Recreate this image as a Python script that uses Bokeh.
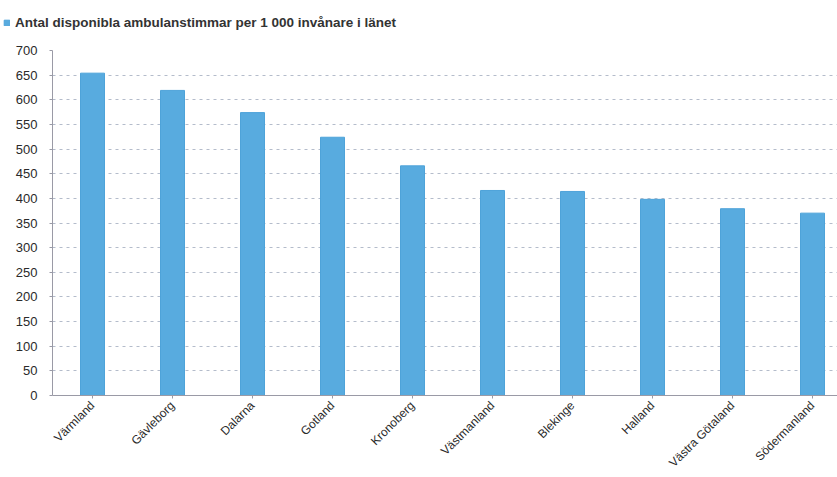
from bokeh.plotting import figure
from bokeh.models import Range1d, FixedTicker, Legend, LegendItem, ColumnDataSource
from bokeh.layouts import column
from bokeh.embed import file_html
from bokeh.resources import INLINE
import math

regions = ["Värmland", "Gävleborg", "Dalarna", "Gotland", "Kronoberg",
           "Västmanland", "Blekinge", "Halland", "Västra Götaland", "Södermanland"]
values = [654, 619, 574, 524, 466, 416, 414, 398, 379, 370]
y_ticks = [0, 50, 100, 150, 200, 250, 300, 350, 400, 450, 500, 550, 600, 650, 700]
series_name = "Antal disponibla ambulanstimmar per 1 000 invånare i länet"

BAR_FILL = "#58abdf"
BAR_LINE = "#4ea3d9"

idx = list(range(len(regions)))
src = ColumnDataSource(dict(x=idx, top=values))

# legend strip on top
lg = figure(width=837, height=40, output_backend="svg", toolbar_location=None,
            x_range=Range1d(0, 1), y_range=Range1d(0, 1),
            x_axis_location=None, y_axis_location=None,
            min_border=0, min_border_left=0, min_border_right=0,
            min_border_top=0, min_border_bottom=0)
lg.frame_align = False
lg.grid.visible = False
lg.outline_line_color = None
lg_src = ColumnDataSource(dict(x=[-10], top=[0]))
lg_r = lg.vbar(x="x", top="top", width=0.3, source=lg_src,
               fill_color=BAR_FILL, line_color=BAR_LINE)
legend = Legend(items=[LegendItem(label=series_name, renderers=[lg_r], index=0)],
                location=(3, 10), border_line_color=None, background_fill_alpha=0,
                padding=0, margin=0, glyph_width=7, glyph_height=7, label_standoff=5,
                label_text_font="Liberation Sans", label_text_font_size="13.5px",
                label_text_font_style="bold", label_text_color="#333333", label_height=13)
lg.add_layout(legend, "center")

p = figure(width=837, height=437, output_backend="svg", toolbar_location=None,
           x_range=Range1d(-0.5, -0.5 + 785 / 80), y_range=Range1d(0, 700),
           min_border_left=52, min_border_right=0, min_border_top=10, min_border_bottom=81)
p.frame_align = False
p.outline_line_color = None
p.background_fill_color = "white"
p.border_fill_color = "white"

p.vbar(x="x", top="top", width=0.3, bottom=0, source=src,
       fill_color=BAR_FILL, line_color=BAR_LINE, line_width=1)

p.xgrid.grid_line_color = None
p.ygrid.ticker = FixedTicker(ticks=y_ticks)
p.ygrid.grid_line_color = "#b4bccb"
p.ygrid.grid_line_dash = "3 4"
p.ygrid.grid_line_width = 1

p.yaxis.ticker = FixedTicker(ticks=y_ticks)
p.yaxis.axis_line_color = "#9a9aa6"
p.yaxis.major_tick_line_color = "#9a9aa6"
p.yaxis.major_tick_out = 3
p.yaxis.major_tick_in = 0
p.yaxis.minor_tick_line_color = None
p.yaxis.major_label_standoff = 12
p.yaxis.major_label_text_font = "Liberation Sans"
p.yaxis.major_label_text_font_size = "13px"
p.yaxis.major_label_text_color = "#2a2a2a"

p.xaxis.ticker = FixedTicker(ticks=idx)
p.xaxis.major_label_overrides = {i: n for i, n in zip(idx, regions)}
p.xaxis.major_label_orientation = math.pi / 4
p.xaxis.axis_line_color = "#9a9aa6"
p.xaxis.major_tick_line_color = "#9a9aa6"
p.xaxis.major_tick_out = 3
p.xaxis.major_tick_in = 0
p.xaxis.minor_tick_line_color = None
p.xaxis.major_label_standoff = 5
p.xaxis.major_label_text_font = "Liberation Sans"
p.xaxis.major_label_text_font_size = "12px"
p.xaxis.major_label_text_color = "#2a2a2a"

layout = column(lg, p, spacing=0)
open("out.html", "w").write(file_html(layout, INLINE))
